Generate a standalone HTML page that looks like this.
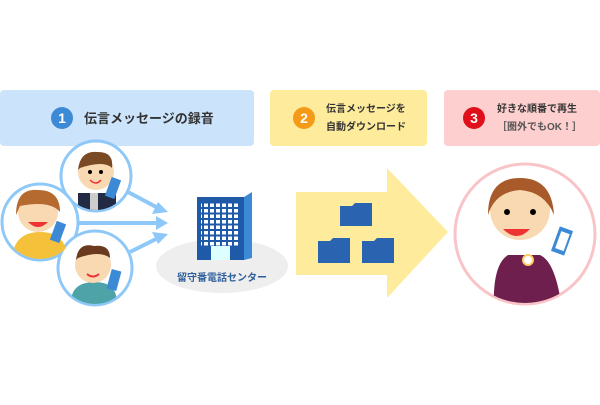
<!DOCTYPE html>
<html><head><meta charset="utf-8"><style>
body{margin:0;background:#fff;width:600px;height:400px;overflow:hidden}
text{font-family:"Liberation Sans","Noto Sans CJK JP",sans-serif;font-weight:bold}
</style></head><body>
<svg width="600" height="400" xmlns="http://www.w3.org/2000/svg">
<defs>
<pattern id="win" width="6" height="5.5" patternUnits="userSpaceOnUse"><rect width="4" height="3.5" fill="#fff"/></pattern>
<clipPath id="rc"><circle cx="525" cy="234" r="69"/></clipPath>
<clipPath id="c1"><circle cx="96" cy="176" r="34"/></clipPath>
<clipPath id="c2"><circle cx="40" cy="222" r="37"/></clipPath>
<clipPath id="c3"><circle cx="95" cy="268" r="36"/></clipPath>
</defs>
<rect x="0" y="90" width="254" height="56" rx="4" fill="#cce4fb"/>
<rect x="270" y="90" width="157" height="56" rx="4" fill="#feeb9c"/>
<rect x="444" y="90" width="156" height="56" rx="4" fill="#fdcfcf"/>
<circle cx="62" cy="118" r="11" fill="#3c8ad6"/><text x="62" y="123" font-size="14" fill="#fff" text-anchor="middle">1</text>
<text x="84" y="123" font-size="13" fill="#333">伝言メッセージの録音</text>
<circle cx="304" cy="118" r="11" fill="#f49a16"/><text x="304" y="123" font-size="14" fill="#fff" text-anchor="middle">2</text>
<text x="326" y="112" font-size="10" fill="#333">伝言メッセージを</text>
<text x="326" y="130" font-size="10" fill="#333">自動ダウンロード</text>
<circle cx="474" cy="118" r="11" fill="#e0101a"/><text x="474" y="123" font-size="14" fill="#fff" text-anchor="middle">3</text>
<text x="497" y="112" font-size="10" fill="#333">好きな順番で再生</text>
<text x="497" y="130" font-size="10" fill="#555" font-weight="normal">［圏外でもOK！］</text>
<g stroke="#8ec8f8" stroke-width="4" fill="#8ec8f8">
<line x1="128" y1="192" x2="158" y2="208"/><polygon points="168,212 152,214 158,202" stroke="none"/>
<line x1="78" y1="223" x2="158" y2="223"/><polygon points="168,223 156,216 156,230" stroke="none"/>
<line x1="130" y1="252" x2="158" y2="238"/><polygon points="168,234 158,244 152,232" stroke="none"/>
</g>
<g stroke="#8ec8f8" stroke-width="3">
<circle cx="96" cy="176" r="35" fill="#fff"/>
<circle cx="40" cy="222" r="38" fill="#fff"/>
<circle cx="95" cy="268" r="37" fill="#fff"/>
</g>
<g clip-path="url(#c1)">
<rect x="78" y="193" width="38" height="20" fill="#232a44"/><rect x="90" y="193" width="8" height="18" fill="#ccc"/>
<circle cx="96" cy="172" r="18" fill="#f8d9b2"/><path d="M78,170 Q80,150 98,152 Q114,152 112,168 Q104,160 80,168Z" fill="#7a4a24"/>
<circle cx="90" cy="172" r="2" fill="#000"/><circle cx="101" cy="172" r="2" fill="#000"/><path d="M90,180 Q96,186 101,180" stroke="#e33" fill="none" stroke-width="1.5"/>
<rect x="108" y="178" width="10" height="20" fill="#3c8ad6" transform="rotate(20 113 188)"/>
</g>
<g clip-path="url(#c2)">
<path d="M14,248 Q20,232 40,232 Q62,232 66,250 L66,262 L14,262Z" fill="#f6c13a"/>
<circle cx="38" cy="212" r="20" fill="#f8d9b2"/><path d="M16,215 Q16,188 38,190 Q60,190 60,212 Q50,200 20,206Z" fill="#b56a30"/>
<path d="M28,222 Q38,232 48,222Z" fill="#e33"/>
<rect x="53" y="222" width="10" height="20" fill="#3c8ad6" transform="rotate(20 58 232)"/>
</g>
<g clip-path="url(#c3)">
<path d="M72,295 Q76,282 95,282 Q112,282 116,295 L116,305 L72,305Z" fill="#4ea3a8"/>
<circle cx="93" cy="265" r="18" fill="#f8d9b2"/><path d="M76,260 Q78,242 94,246 Q110,244 110,258 Q100,250 78,258Z" fill="#6b3a1e"/>
<path d="M87,274 Q93,279 99,274" stroke="#e33" fill="none" stroke-width="2"/>
<rect x="109" y="270" width="10" height="20" fill="#3c8ad6" transform="rotate(15 114 280)"/>
</g>
<ellipse cx="222" cy="266" rx="66" ry="27" fill="#eeeeee"/>
<polygon points="197,197 244,197 252,192 252,258 244,260 197,260" fill="#3c8ad6"/>
<rect x="197" y="197" width="47" height="63" fill="#1f5aa8"/>
<rect x="201" y="202" width="39" height="44" fill="url(#win)"/>
<rect x="211" y="246" width="19" height="14" fill="#dff"/>
<text x="222" y="281" font-size="10" fill="#2f5f9a" text-anchor="middle">留守番電話センター</text>
<polygon points="296,192 387,192 387,168 448,232 387,298 387,275 296,275" fill="#feeb9c"/>
<g fill="#2a64b0">
<path d="M340,206 h12 l3,-3 h17 v23 h-32Z"/>
<path d="M318,241 h12 l3,-3 h17 v25 h-32Z"/>
<path d="M362,241 h12 l3,-3 h17 v25 h-32Z"/>
</g>
<circle cx="525" cy="234" r="70" fill="#fff" stroke="#f9c4c8" stroke-width="3"/>
<g clip-path="url(#rc)">
<path d="M494,310 Q492,265 508,255 L540,255 Q556,262 562,310Z" fill="#6e1f4e"/>
<circle cx="520" cy="210" r="30" fill="#f8d9b2"/>
<path d="M488,215 Q488,178 520,178 Q552,178 554,215 Q545,192 520,190 Q495,192 488,215Z" fill="#a85a2a"/>
<circle cx="507" cy="212" r="3" fill="#000"/><circle cx="533" cy="212" r="3" fill="#000"/>
<path d="M503,229 Q517,243 530,229Z" fill="#e33"/>
<circle cx="528" cy="260" r="5" fill="#fff" stroke="#fc6" stroke-width="2"/>
<rect x="555" y="228" width="14" height="26" fill="#3c8ad6" transform="rotate(20 562 241)"/>
<rect x="558" y="232" width="9" height="18" fill="#fff" transform="rotate(20 562 241)"/>
</g>
</svg>
</body></html>
